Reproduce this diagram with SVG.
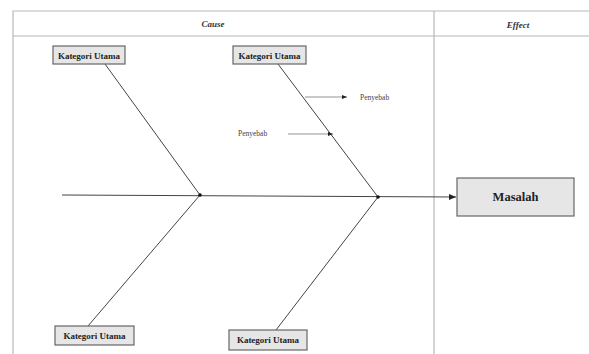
<svg xmlns="http://www.w3.org/2000/svg" width="589" height="354" viewBox="0 0 589 354">
<defs>
<style>
.frame{fill:none;stroke:#b8b8b8;stroke-width:1.2}
.box{fill:#e6e6e6;stroke:#666;stroke-width:1.2}
.lbl{font-family:"Liberation Serif",serif;font-weight:bold;font-size:9px;fill:#222;text-anchor:middle}
.big{font-size:12.5px}
.hdr{font-family:"Liberation Serif",serif;font-style:italic;font-weight:bold;font-size:9px;fill:#333;text-anchor:middle}
.sm{font-family:"Liberation Serif",serif;font-size:7.5px;fill:#444}
.bone{stroke:#444;stroke-width:1;fill:none}
.thin{stroke:#666;stroke-width:0.7;fill:none}
</style>
<marker id="ah" markerWidth="8" markerHeight="8" refX="7" refY="4" orient="auto" markerUnits="userSpaceOnUse">
<path d="M0,1 L7,4 L0,7 Z" fill="#222"/>
</marker>
<marker id="sa" markerWidth="6" markerHeight="6" refX="5" refY="3" orient="auto" markerUnits="userSpaceOnUse">
<path d="M0,1 L5,3 L0,5 Z" fill="#222"/>
</marker>
</defs>
<rect x="0" y="0" width="589" height="354" fill="#fff"/>
<g id="frame">
<path class="frame" d="M13,354 V11 H589 M13,36 H589 M434,11 V354"/>
<text class="hdr" x="213" y="27">Cause</text>
<text class="hdr" x="518" y="28">Effect</text>
</g>
<g id="connectors">
<line class="bone" x1="62" y1="195" x2="456" y2="197" marker-end="url(#ah)"/>
<line class="bone" x1="105" y1="64" x2="200" y2="195"/>
<line class="bone" x1="200" y1="195" x2="88" y2="326"/>
<line class="bone" x1="278" y1="64" x2="378" y2="197"/>
<line class="bone" x1="378" y1="197" x2="276" y2="330"/>
<circle cx="200" cy="195" r="1.8" fill="#111"/>
<circle cx="378" cy="197" r="1.8" fill="#111"/>
<line class="thin" x1="305" y1="97" x2="347" y2="97" marker-end="url(#sa)"/>
<line class="thin" x1="288" y1="134" x2="333" y2="134" marker-end="url(#sa)"/>
</g>
<g id="node-k1">
<rect class="box" x="53" y="46" width="72" height="18"/>
<text class="lbl" x="89" y="58.5">Kategori Utama</text>
</g>
<g id="node-k2">
<rect class="box" x="233" y="46" width="73" height="18"/>
<text class="lbl" x="269.5" y="58.5">Kategori Utama</text>
</g>
<g id="node-k3">
<rect class="box" x="55" y="326" width="79" height="19"/>
<text class="lbl" x="94.5" y="338.5">Kategori Utama</text>
</g>
<g id="node-k4">
<rect class="box" x="229" y="330" width="78" height="20"/>
<text class="lbl" x="268" y="343">Kategori Utama</text>
</g>
<g id="node-masalah">
<rect class="box" x="457" y="178" width="117" height="38"/>
<text class="lbl big" x="515.5" y="201">Masalah</text>
</g>
<g id="label-p1">
<text class="sm" x="360" y="100">Penyebab</text>
</g>
<g id="label-p2">
<text class="sm" x="238" y="136">Penyebab</text>
</g>
</svg>
